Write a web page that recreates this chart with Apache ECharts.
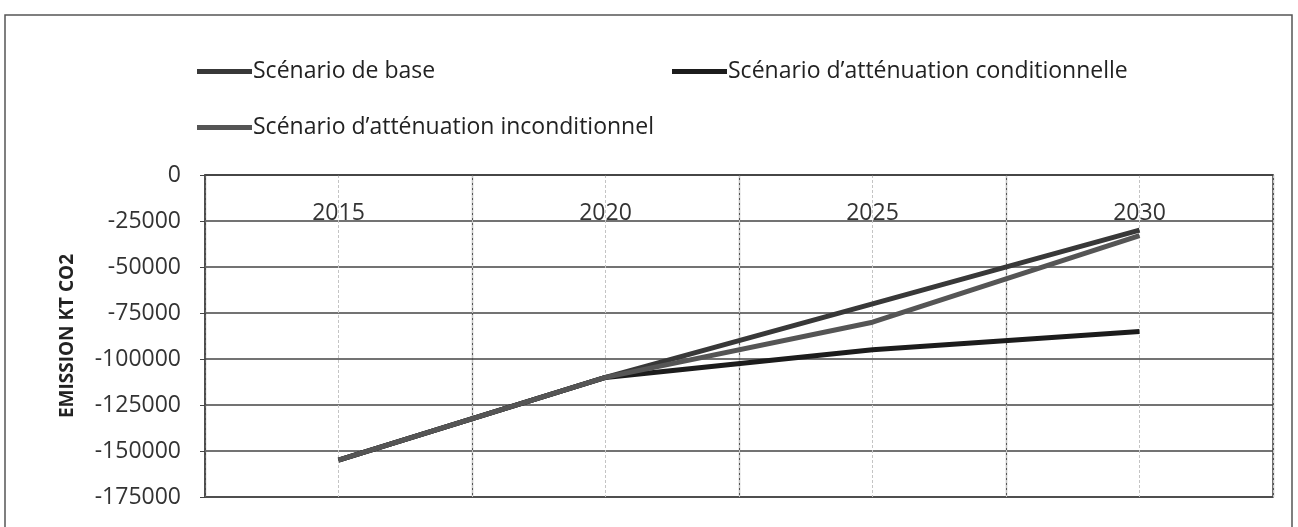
<!DOCTYPE html>
<html>
<head>
<meta charset="utf-8">
<script src="https://cdn.jsdelivr.net/npm/echarts@6/dist/echarts.min.js"></script>
<style>
  html, body { margin: 0; padding: 0; background: #fff; }
  #chart { width: 1298px; height: 527px; }
</style>
</head>
<body>
<div id="chart"></div>
<script>
const years = ['2015', '2020', '2025', '2030'];
const baseScenario = [-155000, -110000, -70000, -30000];
const conditional = [-155000, -110000, -95000, -85000];
const unconditional = [-155000, -110000, -80000, -33000];
const yTicks = { min: -175000, max: 0, step: 25000 };

const FONT = 'Open Sans';

const chart = echarts.init(document.getElementById('chart'));

const legendBase = {
  icon: 'rect',
  itemWidth: 55,
  itemHeight: 5,
  itemGap: 0,
  textStyle: { fontFamily: FONT, fontSize: 23, color: '#222', padding: [0, 0, 0, -4] }
};

chart.setOption({
  animation: false,
  backgroundColor: '#fff',
  graphic: [{
    type: 'rect',
    shape: { x: 5, y: 15, width: 1287, height: 530 },
    style: { fill: 'none', stroke: '#555', lineWidth: 1.5 },
    silent: true
  }],
  legend: [
    Object.assign({ left: 192, top: 55, data: ['Scénario de base'] }, legendBase),
    Object.assign({ left: 667, top: 55, data: ['Scénario d\u2019atténuation conditionnelle'] }, legendBase),
    Object.assign({ left: 192, top: 111, data: ['Scénario d\u2019atténuation inconditionnel'] }, legendBase)
  ],
  grid: {
    left: 205, right: 25, top: 175, bottom: 30,
    outerBoundsMode: 'none',
    show: true, borderColor: '#444', borderWidth: 1.5
  },
  xAxis: [{
    type: 'category',
    data: years,
    boundaryGap: true,
    position: 'top',
    axisLine: { lineStyle: { color: '#444', width: 1.5 } },
    axisTick: { show: false },
    axisLabel: { inside: true, margin: 27, fontFamily: FONT, fontSize: 23, color: '#333' },
    splitLine: { show: true, lineStyle: { color: '#555', width: 1.2 } }
  }, {
    // faint lines through the category centres
    type: 'value',
    min: 0, max: 8, interval: 1,
    position: 'bottom',
    axisLine: { show: false },
    axisTick: { show: false },
    axisLabel: { show: false },
    splitLine: { show: true, lineStyle: { color: '#c4c4c4', width: 1, type: [3, 2] } }
  }],
  yAxis: {
    type: 'value',
    min: yTicks.min, max: yTicks.max, interval: yTicks.step,
    name: 'EMISSION KT CO2',
    nameLocation: 'middle',
    nameGap: 128,
    nameTextStyle: { fontFamily: FONT, fontSize: 19, fontWeight: 'bold', color: '#222' },
    axisLine: { show: true, lineStyle: { color: '#444', width: 1.5 } },
    axisTick: { show: true, length: 5, lineStyle: { color: '#444' } },
    axisLabel: {
      margin: 24, fontFamily: FONT, fontSize: 23, color: '#333',
      formatter: v => String(v)
    },
    splitLine: { show: true, lineStyle: { color: '#444', width: 1.6 } }
  },
  series: [
    {
      name: 'Scénario de base', type: 'line', data: baseScenario,
      symbol: 'none', color: '#383838', lineStyle: { width: 5, color: '#383838' }
    },
    {
      name: 'Scénario d\u2019atténuation conditionnelle', type: 'line', data: conditional,
      symbol: 'none', color: '#1c1c1c', lineStyle: { width: 5, color: '#1c1c1c' }
    },
    {
      name: 'Scénario d\u2019atténuation inconditionnel', type: 'line', data: unconditional,
      symbol: 'none', color: '#555', lineStyle: { width: 5, color: '#555' }
    }
  ]
});
</script>
</body>
</html>
